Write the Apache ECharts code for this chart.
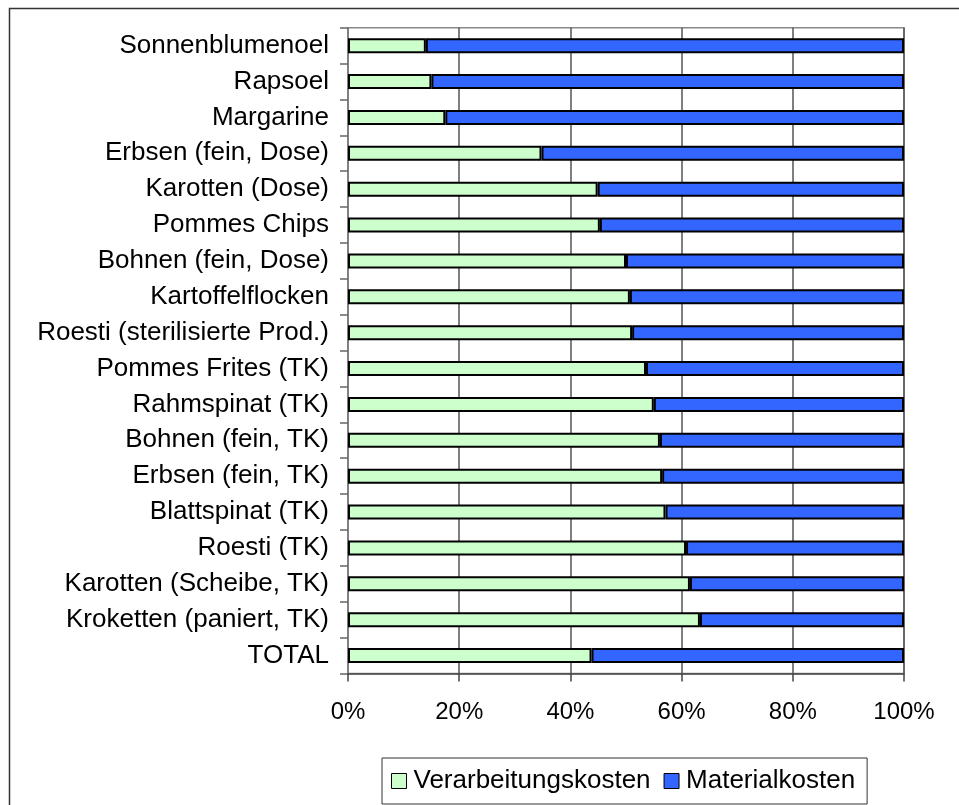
<!DOCTYPE html>
<html>
<head>
<meta charset="utf-8">
<script src="https://cdn.jsdelivr.net/npm/echarts@6/dist/echarts.min.js"></script>
<style>
  html, body { margin: 0; padding: 0; background: #fff; }
  #chart { width: 959px; height: 805px; }
</style>
</head>
<body>
<div id="chart"></div>
<script>
// Product categories, top to bottom
const categories = [
  'Sonnenblumenoel', 'Rapsoel', 'Margarine', 'Erbsen (fein, Dose)',
  'Karotten (Dose)', 'Pommes Chips', 'Bohnen (fein, Dose)', 'Kartoffelflocken',
  'Roesti (sterilisierte Prod.)', 'Pommes Frites (TK)', 'Rahmspinat (TK)',
  'Bohnen (fein, TK)', 'Erbsen (fein, TK)', 'Blattspinat (TK)', 'Roesti (TK)',
  'Karotten (Scheibe, TK)', 'Kroketten (paniert, TK)', 'TOTAL'
];

// Cost shares in percent
const verarbeitungskosten = [14.0, 15.0, 17.5, 34.8, 44.9, 45.3, 50.0, 50.7, 51.1,
  53.6, 55.0, 56.1, 56.5, 57.1, 60.8, 61.5, 63.3, 43.8];
const materialkosten = [86.0, 85.0, 82.5, 65.2, 55.1, 54.7, 50.0, 49.3, 48.9,
  46.4, 45.0, 43.9, 43.5, 42.9, 39.2, 38.5, 36.7, 56.2];

const xTicks = { min: 0, max: 100, interval: 20 };

const FONT = '"Liberation Sans", Arial, sans-serif';

const chart = echarts.init(document.getElementById('chart'), null, { renderer: 'canvas' });

chart.setOption({
  animation: false,
  backgroundColor: '#ffffff',
  graphic: [{
    type: 'rect',
    shape: { x: 9.5, y: 8.5, width: 1000, height: 900 },
    style: { fill: 'none', stroke: '#333333', lineWidth: 1.5 },
    silent: true, z: -10
  }],
  grid: {
    left: 348, right: 55, top: 27.7, bottom: 131.5,
    show: true, borderColor: '#888888', borderWidth: 1.5,
    backgroundColor: 'transparent'
  },
  legend: {
    left: 382, top: 758,
    orient: 'horizontal',
    padding: [10, 12, 10, 9],
    itemGap: 13,
    itemWidth: 15, itemHeight: 15,
    borderColor: '#333333', borderWidth: 1,
    textStyle: { fontFamily: FONT, fontSize: 26, color: '#000', lineHeight: 26, padding: [0, 0, 0, 2] },
    itemStyle: { borderColor: '#000', borderWidth: 1 },
    data: [
      { name: 'Verarbeitungskosten', icon: 'rect' },
      { name: 'Materialkosten', icon: 'rect' }
    ]
  },
  xAxis: {
    type: 'value',
    min: xTicks.min, max: xTicks.max, interval: xTicks.interval,
    axisLine: { show: true, lineStyle: { color: '#444444', width: 1.5 } },
    axisTick: { show: true, length: 8, lineStyle: { color: '#444444', width: 1.5 } },
    axisLabel: {
      formatter: '{value}%', fontFamily: FONT, fontSize: 24, color: '#000', margin: 27
    },
    splitLine: { show: true, lineStyle: { color: '#555555', width: 1.5 } }
  },
  yAxis: {
    type: 'category',
    data: categories,
    inverse: true,
    axisLine: { show: true, lineStyle: { color: '#888888', width: 1.5 } },
    axisTick: { show: true, length: 8, alignWithLabel: false, lineStyle: { color: '#666666', width: 1.5 } },
    axisLabel: { fontFamily: FONT, fontSize: 26, color: '#000', margin: 19 },
    splitLine: { show: false }
  },
  series: [
    {
      name: 'Verarbeitungskosten',
      type: 'bar', stack: 'kosten',
      data: verarbeitungskosten,
      barWidth: 15,
      itemStyle: { color: '#CCFFCC', borderColor: '#000', borderWidth: 2 }
    },
    {
      name: 'Materialkosten',
      type: 'bar', stack: 'kosten',
      data: materialkosten,
      barWidth: 15,
      itemStyle: { color: '#3366FF', borderColor: '#000', borderWidth: 2 }
    }
  ]
});
</script>
</body>
</html>
